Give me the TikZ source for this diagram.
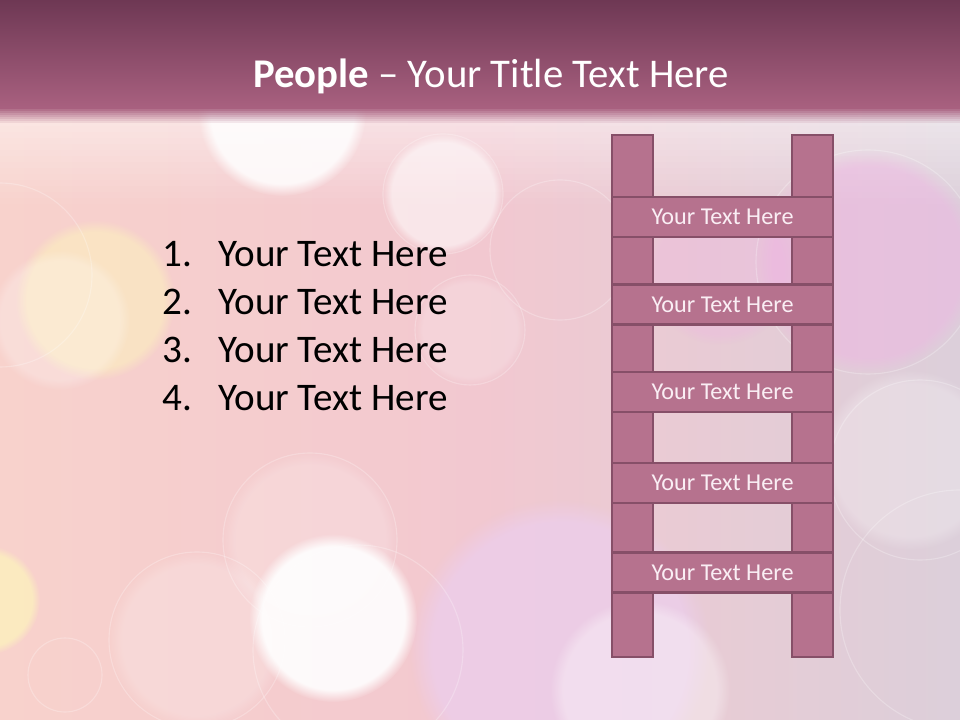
\documentclass[tikz,border=0pt]{standalone}
\usepackage{fontspec}
\setmainfont{Carlito}
\usetikzlibrary{positioning, fadings}
\definecolor{LadderFill}{RGB}{182,114,142}
\definecolor{LadderEdge}{RGB}{134,79,104}
\definecolor{BarTop}{RGB}{110,56,84}
\definecolor{BarBottom}{RGB}{168,96,127}
\definecolor{BgLeft}{RGB}{248,210,204}
\definecolor{BgMid}{RGB}{242,200,208}
\definecolor{BgRight}{RGB}{220,207,218}
\definecolor{BokehYellow}{RGB}{252,240,190}
\definecolor{BokehPink}{RGB}{240,178,228}
\definecolor{BokehLilac}{RGB}{236,206,238}
\definecolor{RungText}{RGB}{250,238,244}
\tikzset{
  rung/.style={draw=LadderEdge, line width=2pt, fill=LadderFill, minimum width=5.525cm,
    minimum height=1cm, inner sep=0pt, text=RungText, font=\fontsize{17.2}{20}\selectfont},
  rail/.style={draw=LadderEdge, line width=2pt, fill=LadderFill, minimum width=1.025cm,
    minimum height=13.05cm, inner sep=0pt},
  bokeh/.style={path fading=circle with fuzzy edge 15 percent},
  ring/.style={draw=white, line width=0.8pt, draw opacity=0.25},
  listitem/.style={anchor=base west, inner sep=0pt, font=\fontsize{27.8}{33}\selectfont}
}
\begin{document}
\begin{tikzpicture}[x=0.025cm, y=-0.025cm]
  \useasboundingbox (0,0) rectangle (960,720);
  % background
  \begin{scope}
    \clip (0,0) rectangle (960,720);
    \shade[left color=BgLeft, right color=BgMid] (0,0) rectangle (480,720);
    \shade[left color=BgMid, right color=BgRight] (480,0) rectangle (960,720);
    \foreach \k in {0,...,15}
      \fill[white, fill opacity=0.5-\k/32] (0,108+6*\k) rectangle (960,114+6*\k);
    \foreach \cx/\cy/\r/\c/\op in {
        560/650/150/BokehLilac/0.7, 868/262/112/BokehPink/0.45, 720/270/75/BokehPink/0.3,
        95/300/80/BokehYellow/0.6, -15/600/55/BokehYellow/0.8, 60/320/70/white/0.25,
        282/112/84/white/0.85, 443/194/60/white/0.55, 333/618/84/white/0.9,
        310/540/88/white/0.2, 197/640/88/white/0.2, 470/330/55/white/0.2,
        910/460/90/white/0.25, 640/690/90/white/0.35}
      \fill[bokeh, fill=\c, fill opacity=\op] (\cx,\cy) circle (\r);
    \foreach \cx/\cy/\r in {443/194/60, 0/275/92, 310/540/87, 197/640/88, 358/650/105,
        65/675/37, 470/330/55, 920/470/90, 960/610/120, 868/262/112, 560/250/70}
      \draw[ring] (\cx,\cy) circle (\r);
    % title bar
    \shade[top color=BarTop, bottom color=BarBottom] (0,0) rectangle (960,107);
    \foreach \k in {0,...,7}
      \fill[BarBottom, fill opacity=1-\k/8] (0,107+2*\k) rectangle (960,109+2*\k);
  \end{scope}
  \node[anchor=base, text=white, font=\fontsize{29}{35}\selectfont] (title) at (491,88)
    {\textbf{People} -- Your Title Text Here};
  % numbered list
  \foreach \i/\y in {1/267, 2/315, 3/363, 4/411} {
    \node[listitem] (num\i) at (162,\y) {\i.};
    \node[listitem] (item\i) at (218,\y) {Your Text Here};
  }
  % ladder
  \node[rail] (railL) at (632.5,396) {};
  \node[rail] (railR) at (812.5,396) {};
  \foreach \i/\y in {1/217, 2/304.5, 3/392, 4/483, 5/572.5}
    \node[rung] (rung\i) at (722.5,\y) {Your Text Here};
\end{tikzpicture}
\end{document}
